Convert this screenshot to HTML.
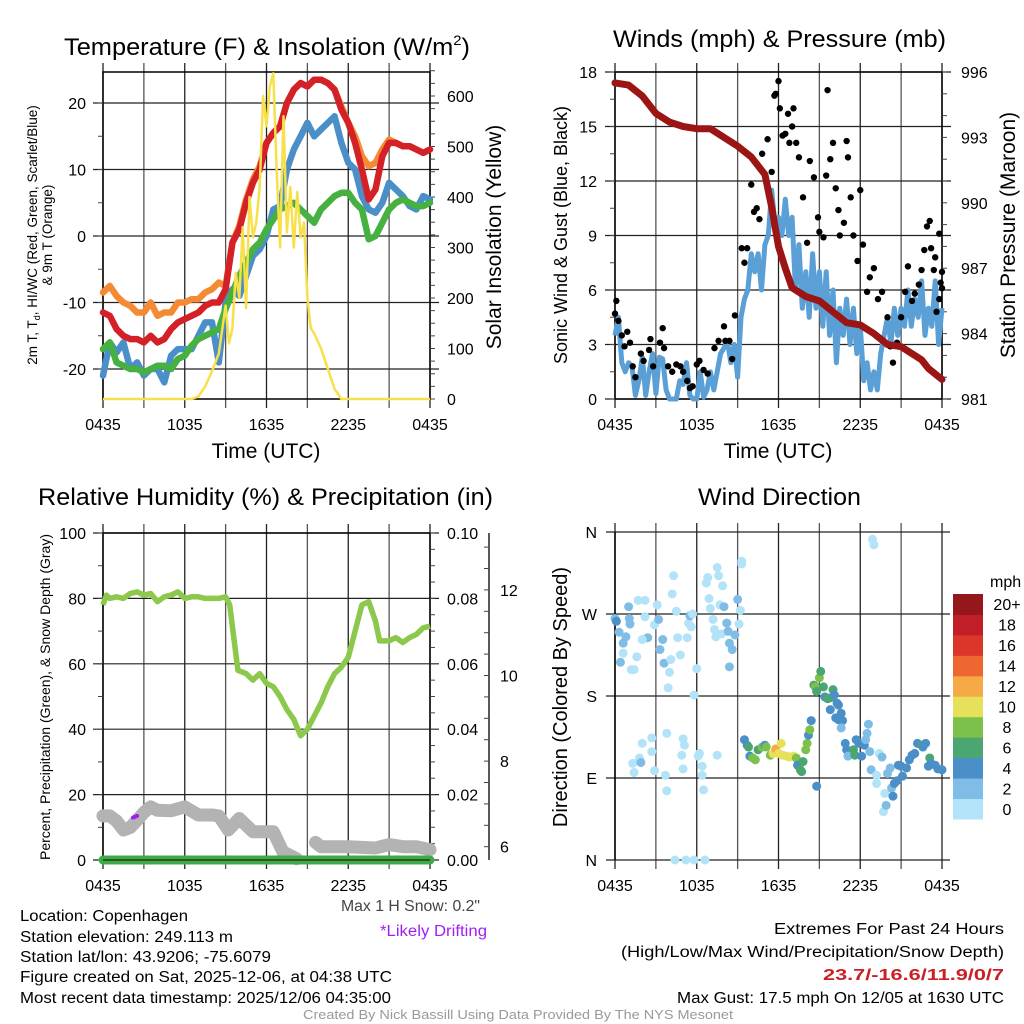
<!DOCTYPE html>
<html><head><meta charset="utf-8"><style>
html,body{margin:0;padding:0;background:#fff;}
svg{display:block;font-family:"Liberation Sans Narrow","Liberation Sans",sans-serif;}
</style></head><body>
<svg id="fig" width="1024" height="1024" viewBox="0 0 1024 1024" xmlns="http://www.w3.org/2000/svg">
<rect width="1024" height="1024" fill="#fff"/>
<g id="tl"></g>
<g id="tr"></g>
<g id="bl"></g>
<g id="br"></g>
<text x="64" y="55" font-size="24" textLength="406" lengthAdjust="spacingAndGlyphs">Temperature (F) &amp; Insolation (W/m<tspan font-size="14" dy="-10">2</tspan><tspan dy="10">)</tspan></text>
<text x="613" y="47" font-size="24" textLength="333" lengthAdjust="spacingAndGlyphs">Winds (mph) &amp; Pressure (mb)</text>
<text x="38" y="505" font-size="24" textLength="455" lengthAdjust="spacingAndGlyphs">Relative Humidity (%) &amp; Precipitation (in)</text>
<text x="698" y="505" font-size="24" textLength="163" lengthAdjust="spacingAndGlyphs">Wind Direction</text>
<g font-size="15.5">
<text x="20" y="921" textLength="168" lengthAdjust="spacingAndGlyphs">Location: Copenhagen</text>
<text x="20" y="942" textLength="213" lengthAdjust="spacingAndGlyphs">Station elevation: 249.113 m</text>
<text x="20" y="962" textLength="251" lengthAdjust="spacingAndGlyphs">Station lat/lon: 43.9206; -75.6079</text>
<text x="20" y="982" textLength="372" lengthAdjust="spacingAndGlyphs">Figure created on Sat, 2025-12-06, at 04:38 UTC</text>
<text x="20" y="1003" textLength="371" lengthAdjust="spacingAndGlyphs">Most recent data timestamp: 2025/12/06 04:35:00</text>
<text x="341" y="911" fill="#444" textLength="139" lengthAdjust="spacingAndGlyphs">Max 1 H Snow: 0.2"</text>
<text x="380" y="936" fill="#a020f0" textLength="107" lengthAdjust="spacingAndGlyphs">*Likely Drifting</text>
<text x="774" y="934" textLength="230" lengthAdjust="spacingAndGlyphs">Extremes For Past 24 Hours</text>
<text x="621" y="957" textLength="383" lengthAdjust="spacingAndGlyphs">(High/Low/Max Wind/Precipitation/Snow Depth)</text>
<text x="823" y="980" fill="#cc1f25" font-weight="bold" textLength="181" lengthAdjust="spacingAndGlyphs">23.7/-16.6/11.9/0/7</text>
<text x="677" y="1003" textLength="327" lengthAdjust="spacingAndGlyphs">Max Gust: 17.5 mph On 12/05 at 1630 UTC</text>
<text x="303" y="1019" font-size="13" fill="#999" textLength="430" lengthAdjust="spacingAndGlyphs">Created By Nick Bassill Using Data Provided By The NYS Mesonet</text>
</g>
</svg>
<script>
// ---------- data ----------
const xTickLabels = ["0435","1035","1635","2235","0435"];
const hh = [0,0.5,1,1.5,2,2.5,3,3.5,4,4.5,5,5.5,6,6.5,7,7.5,8,8.5,9,9.5,10,10.5,11,11.5,12,12.5,13,13.5,14,14.5,15,15.5,16,16.5,17,17.5,18,18.5,19,19.5,20,20.5,21,21.5,22,22.5,23,23.5,24];
const tempRed = [-11.5,-12,-14,-15,-15.5,-15.5,-16,-15,-16,-15.5,-14,-13,-12.5,-12,-11.5,-10.5,-10,-10,-8,-1,1,5,8,10,14,15.5,16.5,20,22,23,22.5,23.5,23.5,23,22,19,17,14,10,5.5,7,12,14,14,13.5,13.5,13,12.5,13];
const temp9mOrange = [-8.5,-7.5,-9,-10,-10.5,-11.5,-11.5,-10,-12,-11.5,-11.5,-10,-10,-9.5,-9.5,-8.5,-8,-7,-7.5,-1,1.5,5.5,8.5,10.5,14,15.5,16.5,20,22,23,22.5,23.5,23.5,23,22,19.5,17,15,12,10.5,11,13,14.5,14,13.5,13.5,13,12.5,13];
const hiwcBlue = [-21,-16,-17.5,-16,-20,-19,-21,-20,-20,-22,-18,-17,-17,-17,-15,-13,-13,-19,-10,-8,-9,-6,-3,-2,0,4,4.5,10,13,15,17,15,16,17,18,14,11,10,6,4,3.5,5,8,7,6,4.5,4,6,5.5];
const dewGreen = [-17,-16,-19,-19.5,-20,-20,-20.5,-20,-19.5,-19.5,-20,-18.5,-18,-16.5,-15.5,-15,-14.5,-14,-11,-8.5,-6,-4,-2,-1,1,2.5,4,4.5,5,4,3,2,4,5,6,6.5,6.5,5,4,-0.5,0,2,4,5,5.5,5,4.5,4.5,5];
const solarT = [0,6.5,7,7.5,8,8.5,9,9.25,9.5,9.75,10,10.25,10.5,10.75,11,11.25,11.5,11.75,12,12.25,12.5,12.75,13,13.25,13.5,13.75,14,14.25,14.5,14.75,15,15.25,15.5,16,16.5,17,17.5,24];
const solarV = [0,0,5,25,55,90,185,110,140,250,200,340,180,400,320,350,420,600,540,620,645,450,300,560,330,420,300,410,320,350,200,140,130,100,60,20,0,0];
const presT = [0,1,2,3,4,5,6,7,8,9,10,11,11.5,12,12.5,13,14,15,16,17,18,19,20,21,22,22.5,23,24];
const presV = [995.5,995.4,994.9,994.1,993.7,993.5,993.4,993.4,993.0,992.6,992.1,991.3,989.8,988.0,987.0,986.1,985.7,985.5,985.0,984.5,984.4,984.0,983.5,983.4,983.0,982.8,982.4,981.9];
const windSonic = [3.5,4.5,2,1.5,2,1.8,0.2,1,2.3,0.2,1.5,2.5,0.3,2.3,2.2,0.5,0,0,0,1,0.8,2,0.2,0,0,1.5,0.1,0.5,1.5,0.5,1.5,2.5,2.8,3.2,2,3,1.2,4.5,5.5,6,8,7,8,6,8.5,9,11.5,9.5,10,9,11,9,10,6,8.5,5,7,4.5,8,5,7,4,7,3.5,6,2,5,3.5,5.5,3,5,2.5,4,1,2,0.5,1.5,0.5,2.5,3.5,4.5,3,5,3.5,5,4,6,4,5.5,4.5,6.5,3.5,5,4,6.5,3,5];
const gustT = [0,0.1,0.25,0.5,0.7,0.9,1.1,1.3,1.5,1.9,2.1,2.5,2.6,2.8,3.3,3.5,3.6,3.9,4.2,4.5,4.8,5.0,5.3,5.5,5.7,6.0,6.2,6.5,6.8,7.3,7.6,8.0,8.1,8.4,8.6,8.8,9.3,9.5,9.7,10.0,10.2,10.4,10.6,10.8,11.2,11.5,11.7,11.8,12.0,12.1,12.3,12.5,12.7,12.8,13.0,13.1,13.3,13.5,13.8,14.1,14.3,14.6,14.9,15.0,15.3,15.5,15.6,15.8,16.0,16.2,16.4,16.5,16.8,17.0,17.1,17.3,17.5,17.8,18.0,18.2,18.5,18.7,19.0,19.3,19.6,20.0,20.2,20.4,20.7,21.0,21.3,21.5,21.8,22.0,22.3,22.5,22.7,22.9,23.1,23.2,23.4,23.5,23.8,23.9,24.0,24.0,23.8,23.6];
const gustV = [4.7,5.4,4.3,3.5,2.9,3.7,3.1,1.8,1.2,2.5,2.1,2.7,3.3,1.8,3.1,3.9,2.8,1.8,1.5,1.9,1.8,1.5,1.0,0.6,0.7,1.9,2.1,1.6,1.4,2.8,3.2,4.0,3.2,3.2,2.2,4.6,8.3,7.5,8.3,11.8,10.3,10.5,9.9,13.5,14.3,12.5,16.7,16.8,17.5,16.0,14.5,14.6,15.7,14.1,15.0,16.0,14.1,13.3,11.1,8.6,13.1,12.2,10.0,9.2,8.9,12.3,17.0,13.2,14.1,11.6,10.4,9.0,9.7,14.2,13.3,11.1,9.0,7.6,11.5,8.5,5.9,6.7,7.2,5.5,5.9,4.5,2.9,2.0,3.1,4.5,5.9,7.3,5.4,5.8,6.3,7.1,8.2,9.5,9.8,8.3,7.1,7.8,9.1,6.4,7.0,6.1,5.5,4.8];
const rhT = [0,0.25,0.5,1,1.5,2,2.5,3,3.5,4,4.5,5,5.5,6,6.5,7,7.5,8,8.5,9,9.3,9.6,9.9,10.5,11,11.5,12,12.5,13,13.5,14,14.5,15,15.5,16,16.5,17,17.5,18,18.5,19,19.5,20,20.3,21,21.5,22,22.5,23,23.5,24];
const rhV = [78,81,80,80.5,80,81.5,82,81,81.5,79,80.5,81,82,80,80.5,80.5,80,80,80,80.5,78,68,58,57,55,57,54,53,50,46,43,38,40,44,48,53,57,59,62,70,78,79,73,67,67,68,66.5,68,69,71,71.5];
const snowT = [0,0.5,1,1.5,2,2.5,3,3.5,4,5,6,7,8,8.5,9.2,10,11,12,12.5,13.2,14.2,14.5,15.6,16,16.5,18,20,21,22,23,24];
const snowV = [6.72,6.72,6.6,6.39,6.45,6.62,6.8,6.93,6.85,6.84,6.93,6.74,6.74,6.72,6.39,6.66,6.35,6.35,6.35,5.88,5.72,null,6.1,6.0,6.0,6.0,5.97,6.05,6.0,6.0,5.93];
const precipT = [0,24];
const precipV = [0,0];
const dirT = [0,0.1,0.3,1.0,1.05,1.1,0.8,0.6,0.4,0.6,1.2,1.4,1.6,1.7,2.2,2.2,2.4,2.0,2.9,3.1,3.2,3.3,3.5,3.6,3.9,4.0,4.1,4.2,4.3,4.5,4.6,4.8,5.3,5.4,5.5,5.6,5.7,5.8,6.0,6.7,6.8,6.9,7.0,7.2,7.3,7.4,7.5,7.6,7.7,7.8,7.9,8.0,8.2,8.3,8.4,8.6,8.4,8.8,9.0,9.2,9.3,9.3,9.1,1.3,1.4,1.8,1.9,2.0,2.7,2.7,2.9,3.7,3.8,3.8,4.9,5.0,5.1,5.0,6.1,6.2,6.4,6.4,6.5,7.5,4.4,5.2,5.8,6.6,18.9,19.0,9.5,9.7,9.8,9.9,10.1,10.3,10.5,10.8,11.0,11.1,11.4,11.6,11.8,12.0,12.2,12.3,12.6,12.8,13.1,13.3,13.4,13.6,13.7,13.8,14.0,14.1,14.2,14.3,14.4,14.8,14.6,14.7,14.8,15.0,15.1,15.3,15.4,15.6,15.8,16.0,16.1,16.3,16.4,15.8,16.2,16.4,16.6,16.7,16.6,16.9,17.0,17.1,17.5,17.6,17.7,17.9,18.1,18.3,18.4,18.5,18.6,18.7,18.8,19.2,19.2,19.4,19.6,19.7,19.8,19.9,20.0,20.2,20.3,20.4,20.5,20.7,20.8,21.0,21.1,21.4,21.6,21.8,22.0,22.2,22.5,22.6,22.8,23.1,23.0,23.2,23.5,23.7,24.0];
const dirV = [265,262,250,278,265,259,245,238,217,227,209,209,223,285,285,267,244,242,258,280,264,231,242,216,189,206,220,292,312,273,244,225,244,260,268,256,270,181,210,304,310,287,276,264,253,245,321,312,280,248,301,278,260,251,238,231,212,247,286,274,328,325,259,106,96,112,107,128,134,119,98,93,76,139,115,133,126,100,114,117,103,93,77,115,0,0,0,0,352,346,132,126,124,114,112,110,121,124,126,124,115,117,122,117,128,115,114,113,114,112,104,99,97,108,121,128,137,143,153,81,192,190,185,200,207,190,179,177,178,187,181,172,170,165,156,154,161,153,145,128,121,114,121,115,132,128,114,126,132,139,149,119,99,93,84,117,113,53,73,60,95,101,79,70,84,87,104,103,92,101,110,115,117,128,126,124,128,112,103,106,104,100,99];
const dirSpeed = [3,4,3,3,3,3,3,3,3,1,1,1,1,1,1,1,3,1,1,1,3,3,3,3,1,1,1,1,1,1,1,1,1,1,3,1,1,1,1,1,1,1,1,1,1,1,1,1,1,1,1,3,3,3,3,3,3,3,3,1,1,1,1,1,1,1,3,1,1,1,1,1,1,1,1,1,1,1,1,1,1,1,1,1,1,1,1,1,1,1,4,4,6,4,8,8,6,8,4,8,8,10,12,10,10,10,10,10,10,8,4,6,6,6,8,8,4,8,4,4,6,8,6,8,6,6,4,6,6,6,4,4,4,4,4,4,4,4,3,4,4,3,6,6,4,4,4,4,3,3,3,3,3,1,1,1,3,1,1,3,3,3,3,4,4,4,4,4,4,4,4,4,4,4,6,4,4,6,4,4,4,4,4];
const speedBins = ["0","2","4","6","8","10","12","14","16","18","20+"];
const speedColors = ["#b3e3f8","#80bde6","#4a8fc8","#4ba672","#7cc14b","#e7e05a","#f5aa45","#ee6630","#dc3529","#c01f27","#95171b"];
const windT = windSonic.map((_, i) => i * 0.25);

// ---------- helpers ----------
const NS = "http://www.w3.org/2000/svg";
function mk(parent, tag, attrs, text){
  const el = document.createElementNS(NS, tag);
  for (const k in attrs) el.setAttribute(k, attrs[k]);
  if (text !== undefined) el.textContent = text;
  parent.appendChild(el);
  return el;
}
const X0 = 103, X1 = 430, X0R = 615, X1R = 942;
function xs(t, left){ const l = left ? X0 : X0R, r = left ? X1 : X1R; return l + t*(r-l)/24; }
function pathD(ts, vs, fx, fy){
  let d = "", pen = false;
  for (let i=0;i<ts.length;i++){
    if (vs[i] === null){ pen = false; continue; }
    d += (pen ? "L" : "M") + fx(ts[i]).toFixed(1) + "," + fy(vs[i]).toFixed(1);
    pen = true;
  }
  return d;
}
function grid(g, l, r, top, bot, hy){
  for (let k=0;k<=8;k++){
    const x = l + k*(r-l)/8;
    const v = mk(g,"line",{x1:x,x2:x,y1:top-9,y2:bot+9,stroke:(k%2? "#555":"#222"),"stroke-width":1.3});
    
    
  }
  hy.forEach(y=>{
    const h = mk(g,"line",{x1:l-10,x2:r+9,y1:y,y2:y,stroke:"#222","stroke-width":1.2});
    
    
  });
  const f = mk(g,"rect",{x:l,y:top,width:r-l,height:bot-top,fill:"none",stroke:"#000","stroke-width":1.5});
  
  
}
function xlabels(g, l, r, y){
  xTickLabels.forEach((s,i)=>{
    const t = mk(g,"text",{x:l+i*(r-l)/4,y:y,"font-size":16,"text-anchor":"middle"},s);
    
    
  });
}
function minor(g, x, ys, dir){
  ys.forEach(y=>{
    const m = mk(g,"line",{x1:x,x2:x+dir*5,y1:y,y2:y,stroke:"#444","stroke-width":1});
    
    
  });
}

// ---------- top-left: temperature ----------
(function(){
  const g = document.getElementById("tl");
  const top=72, bot=399;
  const yL = v => 369 - (v+20)*6.65;
  const yR = v => 399 - v*0.505;
  const tLeft = t => xs(t,true);
  grid(g, X0, X1, top, bot, [-20,-10,0,10,20].map(yL));
  const lm=[]; for(let v=-25;v<=25;v+=5) if (yL(v)>=top && yL(v)<=bot) lm.push(yL(v));
  minor(g, X0, lm, -1);
  const rm=[]; for(let v=0;v<=650;v+=25) rm.push(yR(v));
  minor(g, X1, rm, 1);
  [-20,-10,0,10,20].forEach(v=>{
    const t = mk(g,"text",{x:86,y:yL(v)+6,"font-size":16,"text-anchor":"end"},String(v));
    
    
  });
  [0,100,200,300,400,500,600].forEach(v=>{
    const t = mk(g,"text",{x:447,y:yR(v)+6,"font-size":16},String(v));
    
    
  });
  const series = [[hiwcBlue,"#4a8fc8","hiwc-line"],[temp9mOrange,"#f58a35","temp-9m-line"],[dewGreen,"#46b040","dewpoint-line"],[tempRed,"#d42027","temperature-line"]];
  series.forEach(s=>{
    const p = mk(g,"path",{d:pathD(hh,s[0],tLeft,yL),fill:"none",stroke:s[1],"stroke-width":6.5,"stroke-linejoin":"round","stroke-linecap":"round"});
    
    
  });
  const sp = mk(g,"path",{d:pathD(solarT,solarV,tLeft,yR),fill:"none",stroke:"#f7e04a","stroke-width":2.5,"stroke-linejoin":"round"});
  
  
  xlabels(g, X0, X1, 430);
  const xt = mk(g,"text",{x:266,y:458,"font-size":21,"text-anchor":"middle"},"Time (UTC)");
  
  
  const yt = mk(g,"text",{transform:"translate(37,235) rotate(-90)","font-size":13.5,"text-anchor":"middle"});
  
  
  yt.innerHTML = '2m T, T<tspan font-size="9" dy="3">d</tspan><tspan dy="-3">, HI/WC (Red, Green, Scarlet/Blue)</tspan>';
  const yt2 = mk(g,"text",{transform:"translate(52,235) rotate(-90)","font-size":13.5,"text-anchor":"middle"},"& 9m T (Orange)");
  
  
  const yr = mk(g,"text",{transform:"translate(501,237) rotate(-90)","font-size":21,"text-anchor":"middle"},"Solar Insolation (Yellow)");
  
  
})();

// ---------- top-right: winds ----------
(function(){
  const g = document.getElementById("tr");
  const top=72, bot=399;
  const yW = v => 399 - v*(327/18);
  const yP = p => 399 - (p-981)*(327/15);
  const tR = t => xs(t,false);
  grid(g, X0R, X1R, top, bot, [0,3,6,9,12,15,18].map(yW));
  const lm=[]; for(let v=0;v<=18;v+=1.5) lm.push(yW(v));
  minor(g, X0R, lm, -1);
  const rm=[]; for(let v=981;v<=996;v+=1) rm.push(yP(v));
  minor(g, X1R, rm, 1);
  [0,3,6,9,12,15,18].forEach(v=>{
    const t = mk(g,"text",{x:597,y:yW(v)+6,"font-size":16,"text-anchor":"end"},String(v));
    
    
  });
  [981,984,987,990,993,996].forEach(v=>{
    const t = mk(g,"text",{x:961,y:yP(v)+6,"font-size":16},String(v));
    
    
  });
  const wp = mk(g,"path",{d:pathD(windT,windSonic,tR,yW),fill:"none",stroke:"#5a9fd6","stroke-width":5,"stroke-linejoin":"round"});
  
  
  gustT.forEach((t,i)=>{
    const c = mk(g,"circle",{cx:tR(t),cy:yW(gustV[i]),r:3.2,fill:"#000"});
    
    
  });
  const pp = mk(g,"path",{d:pathD(presT,presV,tR,yP),fill:"none",stroke:"#9c1515","stroke-width":7,"stroke-linejoin":"round","stroke-linecap":"round"});
  
  
  xlabels(g, X0R, X1R, 430);
  const xt = mk(g,"text",{x:778,y:458,"font-size":21,"text-anchor":"middle"},"Time (UTC)");
  
  
  const yl = mk(g,"text",{transform:"translate(567,235) rotate(-90)","font-size":18,"text-anchor":"middle"},"Sonic Wind & Gust (Blue, Black)");
  
  
  const yr = mk(g,"text",{transform:"translate(1015,235) rotate(-90)","font-size":21,"text-anchor":"middle"},"Station Pressure (Maroon)");
  
  
})();

// ---------- bottom-left: humidity ----------
(function(){
  const g = document.getElementById("bl");
  const top=533, bot=860;
  const yH = v => 860 - v*3.27;
  const yS = s => 846.7 - (s-6)*42.8;
  const tLeft = t => xs(t,true);
  grid(g, X0, X1, top, bot, [0,20,40,60,80,100].map(yH));
  const lm=[]; for(let v=0;v<=100;v+=10) lm.push(yH(v));
  minor(g, X0, lm, -1);
  const rm=[]; for(let v=0;v<=100;v+=5) rm.push(yH(v));
  minor(g, X1, rm, 1);
  [0,20,40,60,80,100].forEach(v=>{
    const t = mk(g,"text",{x:86,y:yH(v)+6,"font-size":16,"text-anchor":"end"},String(v));
    
    
  });
  ["0.00","0.02","0.04","0.06","0.08","0.10"].forEach((s,i)=>{
    const t = mk(g,"text",{x:447,y:yH(i*20)+6,"font-size":16},s);
    
    
  });
  const ax = mk(g,"line",{x1:489,x2:489,y1:533,y2:860,stroke:"#222","stroke-width":1.5});
  
  
  const sm=[]; for(let v=6;v<=13;v+=0.5) sm.push(yS(v));
  minor(g, 489, sm, -1);
  [6,8,10,12].forEach(v=>{
    const t = mk(g,"text",{x:500,y:yS(v)+6,"font-size":16},String(v));
    
    
  });
  const sn = mk(g,"path",{d:pathD(snowT,snowV,tLeft,yS),fill:"none",stroke:"#b3b3b3","stroke-width":13,"stroke-linejoin":"round","stroke-linecap":"round"});
  
  
  const pu = mk(g,"path",{d:pathD([2.2,2.5],[6.68,6.72],tLeft,yS),fill:"none",stroke:"#a020f0","stroke-width":4,"stroke-linecap":"round"});
  
  
  const rh = mk(g,"path",{d:pathD(rhT,rhV,tLeft,yH),fill:"none",stroke:"#8cc84b","stroke-width":5.5,"stroke-linejoin":"round"});
  
  
  const pr = mk(g,"path",{d:pathD(precipT,precipV,tLeft,v=>yH(v*1000)),fill:"none",stroke:"#3cab44","stroke-width":9,"stroke-linecap":"round"});
  
  
  const bl = mk(g,"line",{x1:X0,x2:X1,y1:860,y2:860,stroke:"#222","stroke-width":1.2});
  
  
  xlabels(g, X0, X1, 891);
  const yl = mk(g,"text",{transform:"translate(50,697) rotate(-90)","font-size":14,"text-anchor":"middle"},"Percent, Precipitation (Green), & Snow Depth (Gray)");
  
  
})();

// ---------- bottom-right: wind direction ----------
(function(){
  const g = document.getElementById("br");
  const top=532, bot=860;
  const yD = d => 860 - d*(328/360);
  const tR = t => xs(t,false);
  for (let k=0;k<=8;k++){
    const x = X0R + k*(X1R-X0R)/8;
    const v = mk(g,"line",{x1:x,x2:x,y1:top-9,y2:bot+9,stroke:(k%2? "#555":"#222"),"stroke-width":1.3});
    
    
  }
  [0,90,180,270,360].forEach(d=>{
    const h = mk(g,"line",{x1:606,x2:950,y1:yD(d),y2:yD(d),stroke:"#222","stroke-width":1.2});
    
    
  });
  const lx = mk(g,"line",{x1:X0R,x2:X0R,y1:top,y2:bot,stroke:"#000","stroke-width":1.5});
  
  
  [["N",0],["E",90],["S",180],["W",270],["N",360]].forEach(a=>{
    const t = mk(g,"text",{x:597,y:yD(a[1])+6,"font-size":16,"text-anchor":"end"},a[0]);
    
    
  });
  dirT.forEach((t,i)=>{
    const sp = dirSpeed[i];
    const bin = Math.min(10, Math.max(0, Math.floor(sp/2)));
    const c = mk(g,"circle",{cx:tR(t),cy:yD(dirV[i]),r:4.5,fill:speedColors[bin]});
    
    
  });
  xlabels(g, X0R, X1R, 891);
  const yl = mk(g,"text",{transform:"translate(567,697) rotate(-90)","font-size":20,"text-anchor":"middle"},"Direction (Colored By Speed)");
  
  
  const cbTop = 594, cbH = 225/11;
  speedColors.forEach((c,i)=>{
    const r = mk(g,"rect",{x:953,y:cbTop+(10-i)*cbH,width:30,height:cbH+0.5,fill:c});
    
    
    const t = mk(g,"text",{x:1007,y:cbTop+(10-i)*cbH+cbH/2+6,"font-size":16,"text-anchor":"middle"},speedBins[i]);
    
    
  });
  const u = mk(g,"text",{x:990,y:587,"font-size":16},"mph");
  
  
})();
</script>
</body></html>
